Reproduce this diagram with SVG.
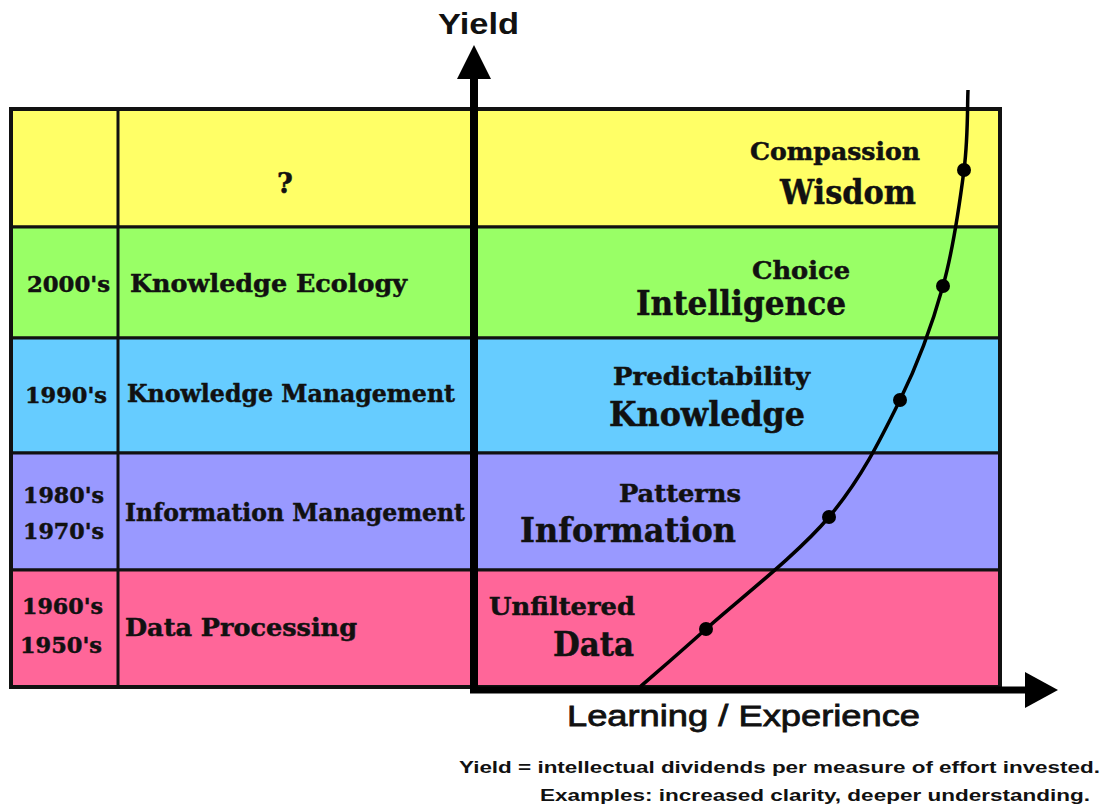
<svg xmlns="http://www.w3.org/2000/svg" width="1104" height="807" viewBox="0 0 1104 807">
<defs>
<style>
.row{stroke:#111;stroke-width:3}
.lab{font-family:"DejaVu Serif","Liberation Serif",serif;font-weight:bold;fill:#111;stroke:#111;stroke-width:0.5}
.yr{font-size:22px}
.era{font-size:25px}
.sub{font-size:24px}
.big{font-size:33px}
.sans{font-family:"Liberation Sans",Arial,sans-serif;fill:#111}
.dot{fill:#000}
</style>
</defs>
<rect width="1104" height="807" fill="#fff"/>
<g id="row-wisdom">
<rect class="row" x="11" y="109" width="989" height="118" fill="#FFFF66"/>
<text class="lab" font-size="27" x="285" y="193" text-anchor="middle">?</text>
<text class="lab sub" x="750" y="160" textLength="170" lengthAdjust="spacingAndGlyphs">Compassion</text>
<text class="lab big" x="780" y="204" textLength="136" lengthAdjust="spacingAndGlyphs">Wisdom</text>
</g>
<g id="row-intelligence">
<rect class="row" x="11" y="227" width="989" height="111" fill="#99FF66"/>
<text class="lab yr" x="27" y="292" textLength="83" lengthAdjust="spacingAndGlyphs">2000's</text>
<text class="lab era" x="130" y="292" textLength="277" lengthAdjust="spacingAndGlyphs">Knowledge Ecology</text>
<text class="lab sub" x="752" y="279" textLength="98" lengthAdjust="spacingAndGlyphs">Choice</text>
<text class="lab big" x="636" y="315" textLength="210" lengthAdjust="spacingAndGlyphs">Intelligence</text>
</g>
<g id="row-knowledge">
<rect class="row" x="11" y="338" width="989" height="115" fill="#66CCFF"/>
<text class="lab yr" x="25" y="403" textLength="82" lengthAdjust="spacingAndGlyphs">1990's</text>
<text class="lab era" x="127" y="402" textLength="328" lengthAdjust="spacingAndGlyphs">Knowledge Management</text>
<text class="lab sub" x="613" y="385" textLength="197" lengthAdjust="spacingAndGlyphs">Predictability</text>
<text class="lab big" x="609" y="426" textLength="196" lengthAdjust="spacingAndGlyphs">Knowledge</text>
</g>
<g id="row-information">
<rect class="row" x="11" y="453" width="989" height="117" fill="#9999FF"/>
<text class="lab yr" x="23" y="503" textLength="81" lengthAdjust="spacingAndGlyphs">1980's</text>
<text class="lab yr" x="23" y="539" textLength="81" lengthAdjust="spacingAndGlyphs">1970's</text>
<text class="lab era" x="125" y="521" textLength="340" lengthAdjust="spacingAndGlyphs">Information Management</text>
<text class="lab sub" x="619" y="502" textLength="122" lengthAdjust="spacingAndGlyphs">Patterns</text>
<text class="lab big" x="520" y="542" textLength="216" lengthAdjust="spacingAndGlyphs">Information</text>
</g>
<g id="row-data">
<rect class="row" x="11" y="570" width="989" height="117" fill="#FF6699"/>
<text class="lab yr" x="22" y="614" textLength="81" lengthAdjust="spacingAndGlyphs">1960's</text>
<text class="lab yr" x="20" y="653" textLength="82" lengthAdjust="spacingAndGlyphs">1950's</text>
<text class="lab era" x="125" y="636" textLength="232" lengthAdjust="spacingAndGlyphs">Data Processing</text>
<text class="lab sub" x="489" y="615" textLength="146" lengthAdjust="spacingAndGlyphs">Unfiltered</text>
<text class="lab big" x="553" y="656" textLength="81" lengthAdjust="spacingAndGlyphs">Data</text>
</g>
<g id="table-lines">
<line x1="118" y1="109" x2="118" y2="687" stroke="#111" stroke-width="3"/>
<rect x="11" y="109" width="989" height="578" fill="none" stroke="#111" stroke-width="4"/>
</g>
<g id="connectors">
<line x1="474" y1="692" x2="474" y2="70" stroke="#000" stroke-width="8"/>
<polygon points="474,45 457,79 491,79" fill="#000"/>
<line x1="470" y1="690" x2="1030" y2="690" stroke="#000" stroke-width="7"/>
<polygon points="1058,690 1025,672 1025,708" fill="#000"/>
<path d="M640,687 C651,677.3 674.5,657.3 706,629 C737.5,600.7 796.7,555.2 829,517 C861.3,478.8 881,438.5 900,400 C919,361.5 932.3,324.3 943,286 C953.7,247.7 959.8,202.7 964,170 C968.2,137.3 967.3,103.3 968,90" fill="none" stroke="#000" stroke-width="3.5"/>
<circle class="dot" cx="706" cy="629" r="7"/>
<circle class="dot" cx="829" cy="517" r="7"/>
<circle class="dot" cx="900" cy="400" r="7"/>
<circle class="dot" cx="943" cy="286" r="7"/>
<circle class="dot" cx="964" cy="170" r="7"/>
</g>
<g id="axis-labels">
<text class="sans" x="438" y="34" font-size="30" font-weight="bold" textLength="81" lengthAdjust="spacingAndGlyphs">Yield</text>
<text class="sans" x="567" y="726" font-size="30" stroke="#111" stroke-width="0.8" textLength="353" lengthAdjust="spacingAndGlyphs">Learning / Experience</text>
<text class="sans" x="459" y="773" font-size="17" font-weight="bold" textLength="641" lengthAdjust="spacingAndGlyphs">Yield = intellectual dividends per measure of effort invested.</text>
<text class="sans" x="540" y="801" font-size="17" font-weight="bold" textLength="550" lengthAdjust="spacingAndGlyphs">Examples: increased clarity, deeper understanding.</text>
</g>
</svg>
